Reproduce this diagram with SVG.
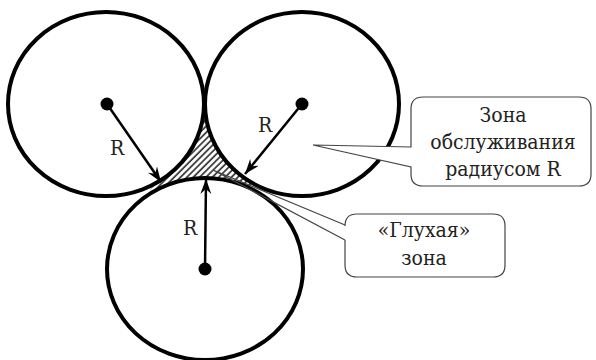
<svg xmlns="http://www.w3.org/2000/svg" width="596" height="360" viewBox="0 0 596 360">
<style>
.circ{fill:none;stroke:#000;stroke-width:4}
.mask{fill:#fff;stroke:none}
.dot{fill:#000}
.arrow{stroke:#000;stroke-width:2.5;fill:none;marker-end:url(#ah)}
.call{fill:#fff;stroke:#444;stroke-width:1.2}
text{font-family:'DejaVu Serif Condensed','DejaVu Serif',serif;font-size:21px;fill:#222}
.ctext{text-anchor:middle}
</style>
<defs>
<pattern id="hatch" patternUnits="userSpaceOnUse" width="4.5" height="4.5" patternTransform="rotate(45)">
<line x1="1" y1="0" x2="1" y2="4.5" stroke="#333" stroke-width="1.7"/>
</pattern>
<marker id="ah" viewBox="-15 -6 16 12" refX="0" refY="0" markerWidth="16" markerHeight="12" markerUnits="userSpaceOnUse" orient="auto">
<path d="M0,0 L-15,-5.5 L-10,0 L-15,5.5 Z" fill="#000"/>
</marker>
</defs>
<g id="dead-zone">
<polygon points="150,190 205,108 262,186" fill="url(#hatch)"/>
<ellipse class="mask" cx="106" cy="104" rx="98" ry="92"/>
<ellipse class="mask" cx="302" cy="104" rx="97" ry="92"/>
<ellipse class="mask" cx="205" cy="269" rx="98" ry="91"/>
</g>
<g id="circle-left">
<ellipse class="circ" cx="106" cy="104" rx="98" ry="92"/>
<circle class="dot" cx="107" cy="104" r="6.5"/>
<text x="117" y="155" text-anchor="middle">R</text>
</g>
<g id="circle-right">
<ellipse class="circ" cx="302" cy="104" rx="97" ry="92"/>
<circle class="dot" cx="302" cy="104" r="6.5"/>
<text x="265" y="132" text-anchor="middle">R</text>
</g>
<g id="circle-bottom">
<ellipse class="circ" cx="205" cy="269" rx="98" ry="91"/>
<circle class="dot" cx="205" cy="269" r="6.5"/>
<text x="190" y="235" text-anchor="middle">R</text>
</g>
<g id="connectors">
<line class="arrow" x1="107" y1="104" x2="161" y2="182"/>
<line class="arrow" x1="302" y1="104" x2="245" y2="174"/>
<line class="arrow" x1="205" y1="269" x2="206" y2="179"/>
</g>
<g id="callout-zone">
<path class="call" d="M423,97 H579 Q591,97 591,109 V174 Q591,186 579,186 H423 Q411,186 411,174 V167 L313,145 L411,147 V109 Q411,97 423,97 Z"/>
<text class="ctext" x="503" y="122">Зона</text>
<text class="ctext" x="503" y="149">обслуживания</text>
<text class="ctext" x="503" y="176">радиусом R</text>
</g>
<g id="callout-dead">
<path class="call" d="M357,214 H493 Q505,214 505,226 V265 Q505,277 493,277 H357 Q345,277 345,265 V240 M345,225 V226 Q345,214 357,214"/>
<path d="M345,225 L213,170 L345,240" fill="none" stroke="#444" stroke-width="1.2"/>
<text class="ctext" x="424" y="237">«Глухая»</text>
<text class="ctext" x="424" y="265">зона</text>
</g>
</svg>
